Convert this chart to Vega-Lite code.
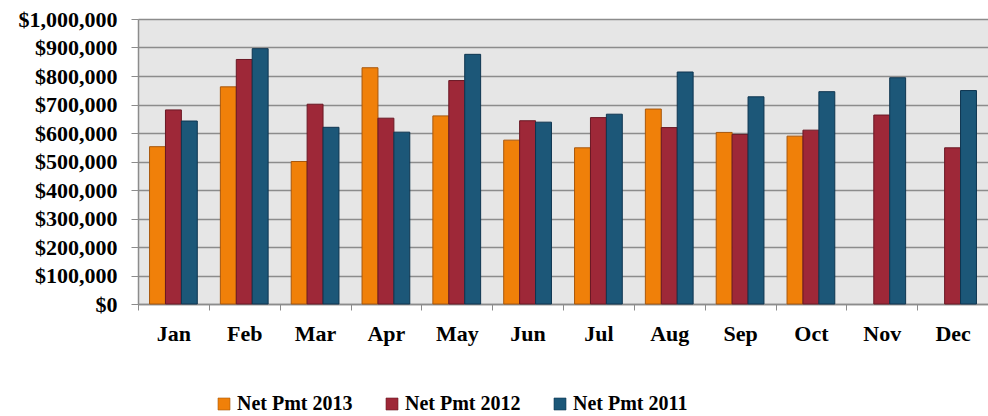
{
  "$schema": "https://vega.github.io/schema/vega-lite/v6.json",
  "autosize": {"type": "none"},
  "padding": {"left": 138, "top": 19, "right": 0, "bottom": 112},
  "width": 850,
  "height": 285,
  "background": "white",
  "data": {
    "values": [
      {"month": "Jan", "series": "Net Pmt 2013", "value": 552000},
      {"month": "Jan", "series": "Net Pmt 2012", "value": 681000},
      {"month": "Jan", "series": "Net Pmt 2011", "value": 642000},
      {"month": "Feb", "series": "Net Pmt 2013", "value": 762000},
      {"month": "Feb", "series": "Net Pmt 2012", "value": 858000},
      {"month": "Feb", "series": "Net Pmt 2011", "value": 896000},
      {"month": "Mar", "series": "Net Pmt 2013", "value": 500000},
      {"month": "Mar", "series": "Net Pmt 2012", "value": 701000},
      {"month": "Mar", "series": "Net Pmt 2011", "value": 620000},
      {"month": "Apr", "series": "Net Pmt 2013", "value": 829000},
      {"month": "Apr", "series": "Net Pmt 2012", "value": 652000},
      {"month": "Apr", "series": "Net Pmt 2011", "value": 603000},
      {"month": "May", "series": "Net Pmt 2013", "value": 660000},
      {"month": "May", "series": "Net Pmt 2012", "value": 784000},
      {"month": "May", "series": "Net Pmt 2011", "value": 876000},
      {"month": "Jun", "series": "Net Pmt 2013", "value": 575000},
      {"month": "Jun", "series": "Net Pmt 2012", "value": 643000},
      {"month": "Jun", "series": "Net Pmt 2011", "value": 638000},
      {"month": "Jul", "series": "Net Pmt 2013", "value": 548000},
      {"month": "Jul", "series": "Net Pmt 2012", "value": 654000},
      {"month": "Jul", "series": "Net Pmt 2011", "value": 666000},
      {"month": "Aug", "series": "Net Pmt 2013", "value": 684000},
      {"month": "Aug", "series": "Net Pmt 2012", "value": 619000},
      {"month": "Aug", "series": "Net Pmt 2011", "value": 814000},
      {"month": "Sep", "series": "Net Pmt 2013", "value": 602000},
      {"month": "Sep", "series": "Net Pmt 2012", "value": 595000},
      {"month": "Sep", "series": "Net Pmt 2011", "value": 727000},
      {"month": "Oct", "series": "Net Pmt 2013", "value": 589000},
      {"month": "Oct", "series": "Net Pmt 2012", "value": 610000},
      {"month": "Oct", "series": "Net Pmt 2011", "value": 745000},
      {"month": "Nov", "series": "Net Pmt 2012", "value": 663000},
      {"month": "Nov", "series": "Net Pmt 2011", "value": 794000},
      {"month": "Dec", "series": "Net Pmt 2012", "value": 548000},
      {"month": "Dec", "series": "Net Pmt 2011", "value": 749000}
    ]
  },
  "mark": {"type": "bar", "strokeWidth": 1},
  "encoding": {
    "x": {
      "field": "month",
      "type": "nominal",
      "sort": ["Jan","Feb","Mar","Apr","May","Jun","Jul","Aug","Sep","Oct","Nov","Dec"],
      "scale": {"paddingInner": 0, "paddingOuter": 0},
      "axis": {
        "title": null,
        "labelAngle": 0,
        "tickBand": "extent",
        "labelFont": "Liberation Serif",
        "labelFontWeight": "bold",
        "labelFontSize": 22,
        "labelColor": "black",
        "labelPadding": 13,
        "tickSize": 6,
        "tickColor": "#8c8c8c",
        "domainColor": "#8c8c8c",
        "domainWidth": 1.5,
        "grid": false
      }
    },
    "xOffset": {
      "field": "series",
      "type": "nominal",
      "sort": ["Net Pmt 2013","Net Pmt 2012","Net Pmt 2011"],
      "scale": {"paddingInner": 0, "paddingOuter": 0.725}
    },
    "y": {
      "field": "value",
      "type": "quantitative",
      "scale": {"domain": [0, 1000000], "nice": false},
      "axis": {
        "title": null,
        "values": [0,100000,200000,300000,400000,500000,600000,700000,800000,900000,1000000],
        "format": "$,.0f",
        "labelFont": "Liberation Serif",
        "labelFontWeight": "bold",
        "labelFontSize": 22,
        "labelColor": "black",
        "labelPadding": 14,
        "tickSize": 7,
        "tickColor": "#8c8c8c",
        "domainColor": "#8c8c8c",
        "domainWidth": 1.5,
        "gridColor": "#8c8c8c",
        "gridWidth": 1.5
      }
    },
    "fill": {
      "field": "series",
      "type": "nominal",
      "sort": ["Net Pmt 2013","Net Pmt 2012","Net Pmt 2011"],
      "scale": {"domain": ["Net Pmt 2013","Net Pmt 2012","Net Pmt 2011"], "range": ["#F08009","#9E2838","#1C5778"]},
      "legend": {
        "title": null,
        "orient": "none",
        "direction": "horizontal",
        "legendX": 76,
        "legendY": 375,
        "symbolType": "square",
        "symbolSize": 144,
        "symbolStrokeColor": "#444444",
        "symbolStrokeWidth": 0.6,
        "labelFont": "Liberation Serif",
        "labelFontWeight": "bold",
        "labelFontSize": 20,
        "labelColor": "black",
        "labelOffset": 3,
        "columnPadding": 29
      }
    },
    "stroke": {
      "field": "series",
      "type": "nominal",
      "scale": {"domain": ["Net Pmt 2013","Net Pmt 2012","Net Pmt 2011"], "range": ["#A8570C","#6A1824","#0E3550"]},
      "legend": null
    }
  },
  "config": {
    "view": {"fill": "#E6E6E6", "stroke": null}
  }
}
